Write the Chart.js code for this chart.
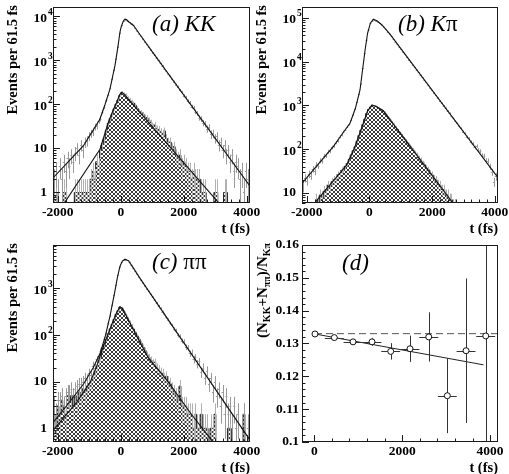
<!DOCTYPE html>
<html>
<head>
<meta charset="utf-8">
<script src="https://cdn.jsdelivr.net/npm/chart.js@4.4.1/dist/chart.umd.min.js"></script>
<style>
  body { margin: 0; background: #fff; }
  #wrap { position: relative; width: 509px; height: 474px; overflow: hidden; background: #fff; }
  canvas { position: absolute; }
</style>
</head>
<body>
<div id="wrap">
  <canvas id="cA" width="264" height="240" style="left:0;top:0"></canvas>
  <canvas id="cB" width="259" height="240" style="left:250px;top:0"></canvas>
  <canvas id="cC" width="264" height="238" style="left:0;top:236px"></canvas>
  <canvas id="cD" width="259" height="238" style="left:250px;top:236px"></canvas>
</div>
<script>
// =========================================================================
// 1. DATA
// =========================================================================
// bin centres, 61.5 fs bins
const binT = [-2120, -2058.5, -1997, -1935.5, -1874, -1812.5, -1751, -1689.5, -1628, -1566.5,
  -1505, -1443.5, -1382, -1320.5, -1259, -1197.5, -1136, -1074.5, -1013, -951.5,
  -890, -828.5, -767, -705.5, -644, -582.5, -521, -459.5, -398, -336.5,
  -275, -213.5, -152, -90.5, -29, 32.5, 94, 155.5, 217, 278.5,
  340, 401.5, 463, 524.5, 586, 647.5, 709, 770.5, 832, 893.5,
  955, 1016.5, 1078, 1139.5, 1201, 1262.5, 1324, 1385.5, 1447, 1508.5,
  1570, 1631.5, 1693, 1754.5, 1816, 1877.5, 1939, 2000.5, 2062, 2123.5,
  2185, 2246.5, 2308, 2369.5, 2431, 2492.5, 2554, 2615.5, 2677, 2738.5,
  2800, 2861.5, 2923, 2984.5, 3046, 3107.5, 3169, 3230.5, 3292, 3353.5,
  3415, 3476.5, 3538, 3599.5, 3661, 3722.5, 3784, 3845.5, 3907, 3968.5,
  4030];

// (a) KK
const dataA = [2, 3, 1, 4, 2, 5, 3, 6, 4, 7,
  5, 8, 10, 7, 12, 9, 14, 15, 19, 22,
  24, 31, 33, 43, 48, 68, 88, 125, 168, 238,
  377, 615, 1085, 2075, 4260, 6250, 7770, 8460, 7880, 7320,
  6770, 6240, 5430, 4700, 4090, 3540, 3085, 2660, 2330, 2000,
  1755, 1515, 1330, 1145, 1005, 862, 760, 652, 578, 492,
  440, 372, 331, 280, 252, 210, 190, 158, 145, 120,
  110, 89, 84, 68, 63, 50, 47, 38, 36, 28,
  30, 21, 22, 17, 19, 12, 14, 9, 12, 7,
  9, 5, 7, 3, 5, 4, 2, 3, 1, 3,
  2];
const bkgA = [1, 1, 0, 0, 0, 1, 1, 0, 0, 0,
  0, 1, 1, 1, 1, 1, 1, 1, 1, 2,
  3, 2, 5, 4, 9, 13, 16, 26, 37, 48,
  60, 80, 102, 125, 160, 188, 175, 165, 142, 130,
  118, 108, 96, 82, 70, 66, 60, 52, 50, 44,
  39, 31, 34, 28, 27, 24, 22, 25, 17, 14,
  14, 10, 11, 7, 6, 7, 4, 5, 4, 3,
  3, 2, 3, 2, 2, 2, 1, 1, 1, 0,
  0, 0, 0, 1, 1, 0, 0, 0, 1, 1,
  0, 0, 0, 0, 0, 0, 0, 0, 0, 0,
  0];
const fitTA = [-2151, -1700, -1190, -900, -660, -500, -342, -184, -100, -60, -25, 10, 50, 90, 134, 180, 250, 397, 600, 927, 4100];
const fitVA = [2.14, 4.68, 11.4, 24.5, 46.7, 100, 226, 771, 1860, 2950, 4470, 5750, 6920, 8040, 8670, 8510, 7590, 6310, 3950, 1860, 1.39];
const bkgFitTA = [-1900, -660, -396, -250, -130, -40, 30, 100, 250, 3100];
const bkgFitVA = [0.44, 9.6, 39, 72, 112, 166, 190, 171, 129, 0.59];

// (b) Kpi
const dataB = [14, 22, 19, 27, 25, 35, 31, 44, 42, 55,
  54, 70, 71, 88, 90, 110, 118, 142, 155, 190,
  210, 250, 278, 330, 368, 470, 610, 820, 1190, 1800,
  3150, 7040, 15580, 31720, 53580, 76240, 87460, 91230, 87050, 81830,
  75190, 69020, 61380, 54630, 48570, 43320, 37880, 33030, 28870, 25230,
  21980, 19190, 16830, 14680, 12860, 11190, 9840, 8560, 7520, 6540,
  5730, 4990, 4380, 3810, 3350, 2910, 2560, 2220, 1960, 1690,
  1500, 1290, 1140, 990, 870, 750, 668, 572, 510, 436,
  392, 332, 300, 252, 229, 190, 176, 146, 135, 110,
  118, 96, 90, 72, 70, 55, 54, 40, 30, 18,
  24];
const bkgB = [2, 3, 3, 4, 3, 4, 5, 7, 6, 9,
  8, 11, 12, 15, 14, 18, 20, 21, 26, 27,
  33, 35, 41, 47, 59, 74, 92, 114, 152, 205,
  271, 363, 484, 655, 810, 921, 1015, 981, 952, 888,
  835, 788, 722, 633, 551, 484, 422, 370, 322, 283,
  246, 217, 187, 166, 143, 127, 109, 97, 83, 75,
  63, 57, 48, 44, 37, 34, 28, 26, 21, 20,
  16, 15, 12, 12, 9, 9, 7, 7, 5, 5,
  4, 4, 3, 3, 2, 2, 2, 1, 1, 1,
  1, 1, 0, 1, 0, 0, 0, 0, 0, 0,
  0];
const fitTB = [-2151, -1700, -1153, -900, -620, -450, -301, -142, -60, 30, 123, 250, 400, 655, 1000, 4100];
const fitVB = [16.6, 39.8, 115, 209, 392, 851, 2260, 17800, 44700, 75900, 93300, 85100, 69200, 42700, 19950, 22.4];
const bkgFitTB = [-1900, -726, -461, -196, -60, 80, 200, 441, 2900];
const bkgFitVB = [4.4, 43.6, 114, 392, 759, 1020, 955, 759, 3.5];

// (c) pipi
const dataC = [3, 2, 4, 4, 5, 3, 5, 6, 6, 7,
  5, 7, 8, 9, 9, 10, 12, 11, 15, 14,
  22, 20, 30, 32, 45, 56, 82, 112, 178, 258,
  432, 700, 1165, 1895, 2880, 3585, 3995, 4105, 3930, 3610,
  3100, 2690, 2300, 1995, 1715, 1495, 1290, 1130, 970, 855,
  735, 645, 552, 490, 418, 370, 312, 280, 236, 212,
  178, 160, 133, 124, 98, 93, 74, 72, 55, 53,
  40, 42, 30, 33, 24, 27, 16, 20, 12, 17,
  9, 12, 6, 10, 5, 7, 3, 6, 2, 5,
  2, 3, 1, 3, 1, 2, 0, 1, 2, 0,
  1];
const bkgC = [2, 1, 3, 2, 4, 3, 2, 5, 4, 5,
  3, 5, 4, 6, 5, 7, 6, 8, 9, 10,
  13, 16, 21, 26, 33, 48, 62, 80, 105, 135,
  168, 215, 275, 330, 395, 380, 320, 270, 228, 190,
  160, 134, 112, 95, 80, 67, 55, 47, 38, 33,
  29, 25, 26, 20, 18, 16, 15, 12, 13, 10,
  9, 7, 6, 5, 4, 8, 3, 3, 3, 2,
  2, 2, 1, 2, 1, 1, 2, 1, 1, 1,
  0, 1, 1, 2, 0, 0, 0, 0, 0, 0,
  1, 1, 0, 0, 0, 0, 0, 0, 2, 0,
  0];
const fitTC = [-2151, -1700, -1183, -872, -660, -500, -342, -184, -100, -25, 50, 134, 250, 400, 600, 4100];
const fitVC = [1.32, 3.16, 8.9, 20, 39.8, 89, 251, 891, 1780, 2950, 3800, 4170, 3850, 2690, 1660, 0.56];
const bkgFitTC = [-2151, -1400, -977, -765, -555, -289, -130, -25, 60, 200, 500, 863, 1498, 2238, 2900];
const bkgFitVC = [0.9, 3.6, 9.5, 21.4, 56, 166, 302, 398, 363, 240, 95.5, 33.1, 10, 2.0, 0.54];

// (d) ratio
const ratioT = [15, 455, 881, 1313, 1739, 2178, 2604, 3027, 3453, 3901];
const ratioV = [0.1329, 0.1318, 0.1305, 0.1305, 0.1276, 0.1284, 0.1320, 0.1141, 0.1278, 0.1323];
const ratioErr = [0.0004, 0.0005, 0.0006, 0.0012, 0.0025, 0.004, 0.0075, 0.0114, 0.022, 0.04];
const ratioTErr = [0, 215, 215, 215, 215, 215, 215, 215, 215, 215];
const slopeT = [15, 3850];
const slopeV = [0.1329, 0.1235];
const flatT = [15, 4180];
const flatV = [0.133, 0.133];

// ticks
const xTickVals = [-2000, 0, 2000, 4000];
const logTicksA = [1, 10, 100, 1000, 10000];
const logTicksB = [10, 100, 1000, 10000, 100000];
const logTicksC = [1, 10, 100, 1000];
const ratioTicksX = [0, 2000, 4000];
const ratioTicksY = [0.1, 0.11, 0.12, 0.13, 0.14, 0.15, 0.16];
const ratioLabelsY = ['0.1', '0.11', '0.12', '0.13', '0.14', '0.15', '0.16'];

const BIN_HALF = 30.75;
const FLOOR = 0.01;   // stand-in for empty bins on the log axis (below the frame)
const TIMES = '"Liberation Serif", "Times New Roman", serif';

// =========================================================================
// 2. HELPERS / PLUGINS
// =========================================================================
const pts = (t, v) => t.map((x, i) => ({ x: x, y: v[i] }));
const histPts = (t, v) => t.map((x, i) => ({ x: x, y: v[i] > 0 ? v[i] : FLOOR }));

function hatchPattern(ctx) {
    const c = document.createElement('canvas');
    c.width = 4; c.height = 4;
    const g = c.getContext('2d');
    g.fillStyle = '#fff'; g.fillRect(0, 0, 4, 4);
    g.fillStyle = '#3c3c3c';
    [[0,0],[1,1],[2,2],[3,3],[0,3],[1,2],[2,1],[3,0]].forEach(p => g.fillRect(p[0], p[1], 1, 1));
    return ctx.createPattern(c, 'repeat');
}

function drawErrors(chart, i) {
    const ds = chart.data.datasets[i];
    if (!ds.errY) return;
    const ctx = chart.ctx, a = chart.chartArea, xs = chart.scales.x, ys = chart.scales.y;
    ctx.save();
    ctx.beginPath();
    ctx.rect(a.left, a.top, a.right - a.left, a.bottom - a.top);
    ctx.clip();
    ctx.strokeStyle = ds.errColor;
    ctx.lineWidth = 1;
    ctx.beginPath();
    ds.data.forEach((p, k) => {
        const ey = ds.errY[k];
        if (!ey) return;
        const ex = ds.errX ? ds.errX[k] : 0;
        const px = Math.round(xs.getPixelForValue(p.x)) + 0.5;
        const py = Math.round(ys.getPixelForValue(p.y)) + 0.5;
        const lo = p.y - ey;
        const pLo = lo > 0 ? ys.getPixelForValue(lo) : a.bottom + 2;
        ctx.moveTo(px, pLo);
        ctx.lineTo(px, ys.getPixelForValue(p.y + ey));
        if (ex) {
            ctx.moveTo(xs.getPixelForValue(p.x - ex), py);
            ctx.lineTo(xs.getPixelForValue(p.x + ex), py);
        }
    });
    ctx.stroke();
    ctx.restore();
}

const errorBars = {
    id: 'errorBars',
    beforeDatasetDraw(chart, args) {
        if (chart.data.datasets[args.index].errFirst) drawErrors(chart, args.index);
    },
    afterDatasetDraw(chart, args) {
        if (!chart.data.datasets[args.index].errFirst) drawErrors(chart, args.index);
    }
};

function drawRuns(ctx, runs, x, y) {
    runs.forEach(r => {
        ctx.font = r[1];
        ctx.fillText(r[0], x, y + (r[2] || 0));
        x += ctx.measureText(r[0]).width;
    });
}

function drawVTitle(ctx, runs, cx, top) {
    ctx.save();
    ctx.translate(cx, top);
    ctx.rotate(-Math.PI / 2);
    ctx.textAlign = 'left';
    ctx.textBaseline = 'middle';
    let w = 0;
    runs.forEach(r => { ctx.font = r[1]; w += ctx.measureText(r[0]).width; });
    drawRuns(ctx, runs, -w, 0);
    ctx.restore();
}

// frame, inward ticks, labels and titles in the ROOT look
const frameCfg = {};
const rootFrame = {
    id: 'rootFrame',
    afterDraw(chart) {
        const o = frameCfg[chart.canvas.id];
        if (!o) return;
        const ctx = chart.ctx, a = chart.chartArea, xs = chart.scales.x, ys = chart.scales.y;
        ctx.save();
        ctx.strokeStyle = '#1a1a1a';
        ctx.lineWidth = 1;
        ctx.strokeRect(a.left + 0.5, a.top + 0.5, a.right - a.left - 1, a.bottom - a.top - 1);

        ctx.beginPath();
        // x minor + major ticks
        for (let v = Math.ceil(xs.min / o.xMinor) * o.xMinor; v <= xs.max; v += o.xMinor) {
            const px = Math.round(xs.getPixelForValue(v)) + 0.5;
            const len = o.xTicks.includes(v) ? 7 : 3.5;
            ctx.moveTo(px, a.bottom); ctx.lineTo(px, a.bottom - len);
        }
        // y ticks
        if (o.log) {
            for (let e = Math.floor(Math.log10(ys.min)); e <= Math.ceil(Math.log10(ys.max)); e++) {
                for (let k = 1; k <= 9; k++) {
                    const v = k * Math.pow(10, e);
                    if (v < ys.min || v > ys.max) continue;
                    const py = Math.round(ys.getPixelForValue(v)) + 0.5;
                    ctx.moveTo(a.left, py); ctx.lineTo(a.left + (k === 1 ? 7 : 3.5), py);
                }
            }
        } else {
            for (let v = ys.min; v <= ys.max + 1e-9; v += o.yMinor) {
                const py = Math.round(ys.getPixelForValue(v)) + 0.5;
                const major = o.yTicks.some(t => Math.abs(t - v) < 1e-9);
                ctx.moveTo(a.left, py); ctx.lineTo(a.left + (major ? 7 : 3.5), py);
            }
        }
        ctx.stroke();

        ctx.fillStyle = '#000';
        // x labels
        ctx.font = 'bold 13.5px ' + TIMES;
        ctx.textAlign = 'center';
        ctx.textBaseline = 'middle';
        o.xTicks.forEach(v => ctx.fillText(String(v), xs.getPixelForValue(v), a.bottom + 10));

        // y labels
        o.yTicks.forEach((v, i) => {
            const py = ys.getPixelForValue(v);
            if (o.log && v >= 100) {
                ctx.font = 'bold 13.5px ' + TIMES;
                ctx.textAlign = 'right';
                ctx.fillText('10', a.left - 6, py + 2);
                ctx.font = 'bold 9.5px ' + TIMES;
                ctx.textAlign = 'left';
                ctx.fillText(String(Math.round(Math.log10(v))), a.left - 5, py - 4);
            } else {
                ctx.font = 'bold 13.5px ' + TIMES;
                ctx.textAlign = 'right';
                ctx.fillText(o.yLabels ? o.yLabels[i] : String(v), a.left - o.yGap, py);
            }
        });

        // x title
        ctx.font = 'bold 14.5px ' + TIMES;
        ctx.textAlign = 'right';
        ctx.fillText('t (fs)', a.right, a.bottom + 26);

        // y title
        drawVTitle(ctx, o.yTitle, o.yTitleX, a.top - 2);

        // panel label
        ctx.textAlign = 'left';
        ctx.textBaseline = 'alphabetic';
        drawRuns(ctx, o.label, a.left + o.labelDx, a.top + o.labelDy);
        ctx.restore();
    }
};

// =========================================================================
// 3. BUILD THE PANELS
// =========================================================================
const eventsTitle = [['Events per 61.5 fs', 'bold 14.5px ' + TIMES]];
const ITAL = 'italic 23px ' + TIMES;
const UPR = '23px ' + TIMES;

function histPanel(id, p) {
    const el = document.getElementById(id);
    const ctx = el.getContext('2d');
    frameCfg[id] = {
        log: true, xTicks: xTickVals, xMinor: 250, yTicks: p.yTicks, yGap: 6,
        yTitle: eventsTitle, yTitleX: p.titleX, label: p.label, labelDx: p.labelDx, labelDy: 24
    };
    new Chart(ctx, {
        type: 'line',
        data: {
            datasets: [
                { data: pts(p.fitT, p.fitV), borderColor: '#111', borderWidth: 1.1, pointRadius: 0, fill: false, tension: 0 },
                { data: pts(p.bkgFitT, p.bkgFitV), borderColor: '#111', borderWidth: 1.1, pointRadius: 0, fill: false, tension: 0 },
                { data: pts(binT, p.data), showLine: false, pointRadius: 0,
                  errY: p.data.map(Math.sqrt), errX: binT.map(() => BIN_HALF), errColor: '#999' },
                { data: histPts(binT, p.bkg), stepped: 'middle', fill: 'start', pointRadius: 0,
                  backgroundColor: hatchPattern(ctx), borderColor: '#222', borderWidth: 1,
                  errY: p.bkg.map(Math.sqrt), errColor: '#b0b0b0' }
            ]
        },
        options: {
            responsive: false, animation: false, devicePixelRatio: 1,
            layout: { padding: p.pad },
            scales: {
                x: { type: 'linear', min: -2151, max: 4100, bounds: 'data', display: false },
                y: { type: 'logarithmic', min: p.yMin, max: p.yMax, bounds: 'data', display: false }
            },
            plugins: { legend: { display: false }, tooltip: { enabled: false } }
        },
        plugins: [errorBars, rootFrame]
    });
}

histPanel('cA', {
    pad: { left: 53, top: 7, right: 14, bottom: 37 }, yMin: 0.577, yMax: 16400, yTicks: logTicksA,
    fitT: fitTA, fitV: fitVA, bkgFitT: bkgFitTA, bkgFitV: bkgFitVA, data: dataA, bkg: bkgA,
    titleX: 13, labelDx: 99, label: [['(a) KK', ITAL]]
});
histPanel('cB', {
    pad: { left: 52, top: 7, right: 11, bottom: 37 }, yMin: 5.9, yMax: 178000, yTicks: logTicksB,
    fitT: fitTB, fitV: fitVB, bkgFitT: bkgFitTB, bkgFitV: bkgFitVB, data: dataB, bkg: bkgB,
    titleX: 12, labelDx: 96, label: [['(b) K', ITAL], ['\u03c0', UPR]]
});
histPanel('cC', {
    pad: { left: 53, top: 9, right: 14, bottom: 32 }, yMin: 0.51, yMax: 8400, yTicks: logTicksC,
    fitT: fitTC, fitV: fitVC, bkgFitT: bkgFitTC, bkgFitV: bkgFitVC, data: dataC, bkg: bkgC,
    titleX: 13, labelDx: 99, label: [['(c) ', ITAL], ['\u03c0\u03c0', UPR]]
});

// (d) ratio panel
(function () {
    const id = 'cD';
    const B = 'bold 15px ' + TIMES, S = 'bold 10px ' + TIMES;
    frameCfg[id] = {
        log: false, xTicks: ratioTicksX, xMinor: 400, yTicks: ratioTicksY, yLabels: ratioLabelsY,
        yMinor: 0.002, yGap: 3,
        yTitle: [['(N', B], ['KK', S, 4], ['+N', B], ['\u03c0\u03c0', S, 4], [')/N', B], ['K\u03c0', S, 4]],
        yTitleX: 13, label: [['(d)', ITAL]], labelDx: 40, labelDy: 25
    };
    new Chart(document.getElementById(id), {
        type: 'line',
        data: {
            datasets: [
                { data: pts(ratioT, ratioV), showLine: false, pointRadius: 3, pointHoverRadius: 3,
                  pointBackgroundColor: '#fff', pointBorderColor: '#111', pointBorderWidth: 1,
                  errY: ratioErr, errX: ratioTErr, errColor: '#333', errFirst: true },
                { data: pts(slopeT, slopeV), borderColor: '#222', borderWidth: 1, pointRadius: 0, fill: false },
                { data: pts(flatT, flatV), borderColor: '#555', borderWidth: 1, borderDash: [7, 4], pointRadius: 0, fill: false }
            ]
        },
        options: {
            responsive: false, animation: false, devicePixelRatio: 1,
            layout: { padding: { left: 52, top: 9, right: 11, bottom: 32 } },
            scales: {
                x: { type: 'linear', min: -280, max: 4180, bounds: 'data', display: false },
                y: { type: 'linear', min: 0.1, max: 0.16, bounds: 'data', display: false }
            },
            plugins: { legend: { display: false }, tooltip: { enabled: false } }
        },
        plugins: [errorBars, rootFrame]
    });
})();
</script>
</body>
</html>
